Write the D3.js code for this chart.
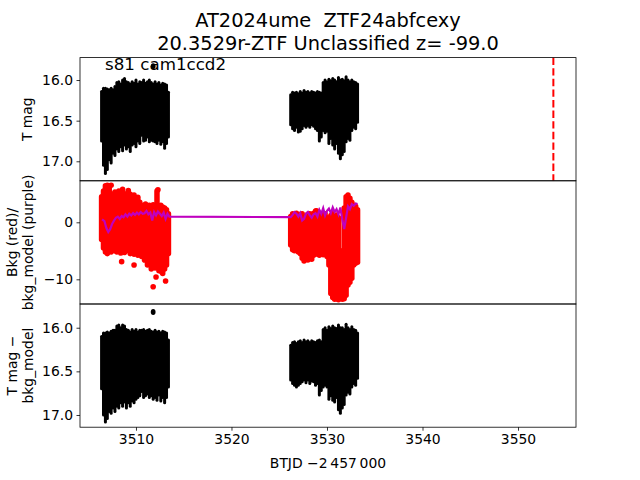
<!DOCTYPE html>
<html>
<head>
<meta charset="utf-8">
<script src="https://cdn.jsdelivr.net/npm/d3@7"></script>
<style>
  body { margin: 0; background: #fff; }
  svg { font-family: "DejaVu Sans", sans-serif; }
</style>
</head>
<body>
<svg width="640" height="480"></svg>
<script>
// light curve envelopes: time, brightest mag, faintest mag
var lcTime1 = [3506.4,3506.6,3506.8,3507.0,3507.2,3507.4,3507.6,3507.8,3508.0,3508.2,3508.4,3508.6,3508.8,3509.0,3509.2,3509.4,3509.6,3509.8,3510.0,3510.2,3510.4,3510.6,3510.8,3511.0,3511.2,3511.4,3511.6,3511.8,3512.0,3512.2,3512.4,3512.6,3512.8,3513.0,3513.2,3513.4]
var lcTop1  = [16.14,16.10,16.10,16.11,16.12,16.10,16.12,16.08,16.03,16.02,16.05,16.00,15.98,16.02,16.03,16.05,16.02,16.04,16.00,16.05,16.02,16.03,16.00,16.04,16.02,16.00,16.03,16.05,16.02,16.05,16.03,16.06,16.04,16.05,16.06,16.15]
var lcBot1  = [16.75,17.05,17.15,17.10,16.98,17.02,16.90,16.93,16.85,16.88,16.82,16.87,16.80,16.85,16.82,16.88,16.80,16.78,16.82,16.75,16.78,16.68,16.75,16.74,16.70,16.76,16.74,16.75,16.76,16.78,16.74,16.79,16.76,16.84,16.78,16.70]
var lcTime2 = [3526.2,3526.4,3526.6,3526.8,3527.0,3527.2,3527.4,3527.6,3527.8,3528.0,3528.2,3528.4,3528.6,3528.8,3529.0,3529.2,3529.4,3529.6,3529.8,3530.0,3530.2,3530.4,3530.6,3530.8,3531.0,3531.2,3531.4,3531.6,3531.8,3532.0,3532.2,3532.4,3532.6,3532.8,3533.0,3533.2]
var lcTop2  = [16.18,16.15,16.16,16.15,16.17,16.14,16.16,16.13,16.15,16.14,16.16,16.14,16.15,16.16,16.14,16.15,16.16,16.03,16.00,16.02,15.99,16.01,15.98,16.00,16.02,15.97,16.00,15.99,16.01,15.96,16.00,16.02,16.00,16.02,16.03,16.05]
var lcBot2  = [16.55,16.60,16.62,16.58,16.64,16.63,16.60,16.56,16.58,16.56,16.58,16.55,16.57,16.60,16.62,16.75,16.70,16.62,16.65,16.63,16.78,16.72,16.80,16.85,16.78,16.90,16.97,16.92,16.88,16.76,16.72,16.74,16.62,16.58,16.60,16.52]
var outTime = [3511.8], outMag = [15.83], outCorr = [15.82]

// background (red) envelopes and stray points
var bkTop1 = [4.5,5.5,6.4,5.2,6.4,5.0,4.8,5.3,4.9,5.5,4.6,5.8,5.0,4.7,5.6,4.9,4.5,4.8,4.0,4.4,3.5,3.0,2.8,3.2,2.9,3.0,2.6,3.1,2.8,5.5,2.9,3.0,2.7,2.5,2.2,1.5]
var bkBot1 = [-3.0,-4.5,-5.2,-5.5,-4.8,-5.2,-4.5,-5.0,-5.2,-4.8,-5.4,-4.9,-5.3,-4.8,-5.0,-5.5,-5.0,-5.6,-5.2,-5.8,-5.5,-6.0,-5.6,-6.5,-7.5,-7.0,-8.2,-7.8,-8.0,-7.5,-8.5,-7.8,-9.0,-8.2,-7.5,-5.5]
var bkTop2 = [1.0,1.5,1.3,1.6,1.2,1.4,1.5,1.0,0.8,1.4,1.5,1.3,1.6,2.0,1.5,1.6,1.4,1.6,1.5,0.8,0.6,1.2,1.5,1.0,1.3,0.8,-5.5,-5.0,2.5,4.5,4.8,4.2,3.5,3.0,2.8,2.2]
var bkBot2 = [-4.0,-4.8,-5.0,-4.6,-5.2,-5.5,-6.3,-6.8,-6.0,-6.6,-6.2,-6.5,-5.8,-5.6,-5.4,-5.8,-5.5,-5.7,-5.4,-6.0,-7.5,-12.5,-13.2,-13.5,-13.4,-13.6,-13.3,-13.5,-13.4,-12.8,-11.0,-10.5,-9.8,-7.5,-7.2,-7.0]
var bkStrayT = [3508.5,3509.8,3510.9,3511.8,3512.1,3513.1,3512.7,3507.0,3507.4,3512.3,3528.9]
var bkStrayV = [-6.9,-7.5,-6.6,-11.3,-9.6,-10.3,-8.7,6.5,6.5,5.7,2.0]

// bkg model (purple)
var modT = [3506.45,3506.7,3506.9,3507.1,3507.3,3507.5,3507.7,3507.9,3508.1,3508.3,3508.5,3508.7,3508.9,3509.1,3509.3,3509.5,3509.7,3509.9,3510.1,3510.3,3510.5,3510.7,3510.9,3511.1,3511.3,3511.5,3511.7,3511.9,3512.1,3512.3,3512.5,3512.7,3512.9,3513.1,3513.3,3513.5,
            3526.2,3526.4,3526.6,3526.8,3527.0,3527.2,3527.4,3527.6,3527.8,3528.0,3528.2,3528.4,3528.6,3528.8,3529.0,3529.2,3529.4,3529.6,3529.8,3530.0,3530.2,3530.4,3530.6,3530.8,3531.0,3531.2,3531.4,3531.6,3531.8,3532.0,3532.2,3532.4,3532.6,3532.8,3533.0,3533.2]
var modV = [0.5,0.2,-1.0,-1.7,-1.2,-0.3,0.3,0.8,1.0,0.6,1.1,0.9,1.4,1.0,1.5,1.2,1.6,1.3,1.7,1.4,1.8,1.5,1.6,2.0,1.4,1.7,0.3,1.8,1.2,1.9,1.5,1.1,1.7,0.6,1.5,1.0,
            0.9,1.3,1.8,1.5,1.0,1.6,0.3,0.6,1.5,1.8,1.2,0.8,1.4,1.6,1.0,2.2,1.5,2.5,1.2,2.0,2.4,1.6,2.6,1.8,2.3,1.4,2.6,0.5,-1.2,0.8,2.8,2.3,3.2,2.9,3.3,3.2]

// corrected light curve (T mag - bkg_model)
var cTop1 = [16.10,16.06,16.06,16.05,16.06,16.04,16.03,16.03,15.98,15.97,16.00,15.97,15.98,16.02,16.03,16.05,16.02,16.04,16.02,16.05,16.03,16.03,16.02,16.04,16.03,16.02,16.04,16.05,16.03,16.05,16.04,16.06,16.04,16.05,16.06,16.14]
var cBot1 = [16.70,17.00,17.08,17.04,16.96,16.98,16.92,16.96,16.90,16.92,16.86,16.90,16.85,16.92,16.86,16.90,16.84,16.86,16.82,16.80,16.78,16.73,16.80,16.78,16.76,16.80,16.78,16.82,16.80,16.83,16.77,16.84,16.80,16.86,16.80,16.68]
var cTop2 = [16.20,16.17,16.16,16.18,16.16,16.15,16.17,16.14,16.16,16.15,16.17,16.15,16.16,16.17,16.15,16.14,16.16,16.02,16.00,16.03,15.99,16.01,15.98,16.00,16.01,15.97,16.00,16.00,16.02,15.96,16.00,16.02,15.99,16.02,16.03,16.06]
var cBot2 = [16.60,16.64,16.66,16.68,16.66,16.64,16.62,16.60,16.63,16.60,16.64,16.61,16.62,16.66,16.64,16.77,16.72,16.68,16.66,16.68,16.82,16.78,16.83,16.85,16.80,16.94,16.98,16.92,16.88,16.77,16.74,16.76,16.68,16.64,16.66,16.58]

var peakTime = 3553.7
var xTicks = [3510,3520,3530,3540,3550]
var magTicks = [16.0,16.5,17.0]
var bkgTicks = [0,-10]

var svg = d3.select('svg')
var L = 80, R = 576, T = 57.6, B = 427.2, ph = (B - T) / 3
var x = d3.scaleLinear().domain([3504.14, 3556.07]).range([L, R])
var panels = [
  {y: d3.scaleLinear().domain([15.724, 17.24]).range([T, T + ph]), ticks: magTicks, fmt: d3.format('.1f')},
  {y: d3.scaleLinear().domain([7.28, -14.33]).range([T + ph, T + 2 * ph]), ticks: bkgTicks, fmt: function(d){ return d < 0 ? '\u2212' + (-d) : d }},
  {y: d3.scaleLinear().domain([15.728, 17.14]).range([T + 2 * ph, B]), ticks: magTicks, fmt: d3.format('.1f')}
]

panels.forEach(function(p, i) {
  var top = T + i * ph
  svg.append('clipPath').attr('id', 'clip' + i)
    .append('rect').attr('x', L).attr('y', top).attr('width', R - L).attr('height', ph)
  p.g = svg.append('g').attr('clip-path', 'url(#clip' + i + ')')
  var ax = svg.append('g').attr('transform', 'translate(' + L + ',0)')
    .call(d3.axisLeft(p.y).tickValues(p.ticks).tickFormat(p.fmt).tickSizeOuter(0).tickSize(3.5).tickPadding(3.5))
  ax.select('.domain').remove()
  ax.selectAll('line').attr('stroke-width', 0.8)
  ax.selectAll('text').attr('font-size', 13.9).attr('fill', '#000').attr('font-family', 'DejaVu Sans')
})

function bars(g, y, ts, hi, lo, color, w) {
  g.append('g').selectAll('line').data(ts).enter().append('line')
    .attr('x1', function(d) { return x(d) }).attr('x2', function(d) { return x(d) })
    .attr('y1', function(d, i) { return y(hi[i]) }).attr('y2', function(d, i) { return y(lo[i]) })
    .attr('stroke', color).attr('stroke-width', w).attr('stroke-linecap', 'round')
}

// panel 1
var p1 = panels[0]
bars(p1.g, p1.y, lcTime1, lcTop1, lcBot1, '#000', 3)
bars(p1.g, p1.y, lcTime2, lcTop2, lcBot2, '#000', 3)
p1.g.selectAll('ellipse.out').data(outTime).enter().append('ellipse')
  .attr('cx', function(d) { return x(d) }).attr('cy', function(d, i) { return p1.y(outMag[i]) })
  .attr('rx', 2.4).attr('ry', 3).attr('fill', '#000')
p1.g.append('line').attr('x1', x(peakTime)).attr('x2', x(peakTime))
  .attr('y1', T).attr('y2', T + ph).attr('stroke', 'red').attr('stroke-width', 2).attr('stroke-dasharray', '7.4,3.2')

// panel 2
var p2 = panels[1]
bars(p2.g, p2.y, lcTime1, bkTop1, bkBot1, 'red', 5.5)
bars(p2.g, p2.y, lcTime2, bkTop2, bkBot2, 'red', 5.5)
p2.g.selectAll('circle').data(bkStrayT).enter().append('circle')
  .attr('cx', function(d) { return x(d) }).attr('cy', function(d, i) { return p2.y(bkStrayV[i]) })
  .attr('r', 2.8).attr('fill', 'red')
p2.g.append('path').datum(modT)
  .attr('d', d3.line().x(function(d) { return x(d) }).y(function(d, i) { return p2.y(modV[i]) }))
  .attr('fill', 'none').attr('stroke', '#bf00bf').attr('stroke-width', 2.2)

// panel 3
var p3 = panels[2]
bars(p3.g, p3.y, lcTime1, cTop1, cBot1, '#000', 3)
bars(p3.g, p3.y, lcTime2, cTop2, cBot2, '#000', 3)
p3.g.selectAll('ellipse.out').data(outTime).enter().append('ellipse')
  .attr('cx', function(d) { return x(d) }).attr('cy', function(d, i) { return p3.y(outCorr[i]) })
  .attr('rx', 2.4).attr('ry', 3).attr('fill', '#000')

// frames
panels.forEach(function(p, i) {
  svg.append('rect').attr('x', L).attr('y', T + i * ph).attr('width', R - L).attr('height', ph)
    .attr('fill', 'none').attr('stroke', '#000').attr('stroke-width', 0.8)
})

// x axis on the bottom panel only
var xa = svg.append('g').attr('transform', 'translate(0,' + B + ')')
  .call(d3.axisBottom(x).tickValues(xTicks).tickFormat(d3.format('d')).tickSizeOuter(0).tickSize(3.5).tickPadding(3.5))
xa.select('.domain').remove()
xa.selectAll('line').attr('stroke-width', 0.8)
xa.selectAll('text').attr('font-size', 13.9).attr('fill', '#000').attr('font-family', 'DejaVu Sans')

// text
var cx = (L + R) / 2
svg.append('text').attr('x', cx).attr('y', 27).attr('text-anchor', 'middle').attr('font-size', 19.4).style('white-space', 'pre').text('AT2024ume  ZTF24abfcexy')
svg.append('text').attr('x', cx).attr('y', 50).attr('text-anchor', 'middle').attr('font-size', 19.4).text('20.3529r-ZTF Unclassified z= -99.0')
svg.append('text').attr('x', 105).attr('y', 70).attr('font-size', 16.7).text('s81 cam1ccd2')
svg.append('text').attr('x', cx).attr('y', 468).attr('text-anchor', 'middle').attr('font-size', 13.9).text('BTJD \u22122\u2009457\u2009000')

function ylab(lines, xs, yc) {
  lines.forEach(function(s, i) {
    svg.append('text').attr('transform', 'translate(' + xs[i] + ',' + yc + ') rotate(-90)')
      .attr('text-anchor', 'middle').attr('font-size', 13.9).text(s)
  })
}
ylab(['T mag'], [32], T + ph / 2)
ylab(['Bkg (red)/', 'bkg_model (purple)'], [17, 33], T + 1.5 * ph)
ylab(['T mag \u2212', 'bkg_model'], [17, 33], T + 2.5 * ph)
</script>
</body>
</html>
